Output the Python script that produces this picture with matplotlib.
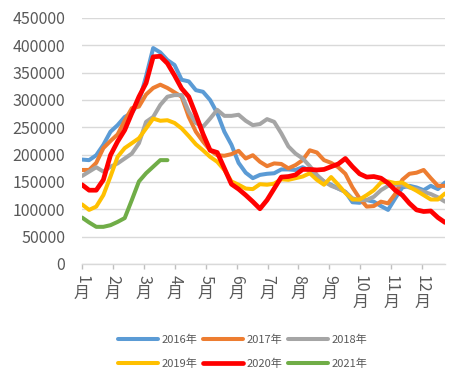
import numpy as np
import matplotlib
matplotlib.use("Agg")
import matplotlib.pyplot as plt

plt.rcParams['font.family'] = ['Noto Sans CJK SC', 'DejaVu Sans']

# =============================================================================
# * Data (weekly values)
# =============================================================================

months = ["1", "2", "3", "4", "5", "6", "7", "8", "9", "10", "11", "12"]
years = ["2016年", "2017年", "2018年", "2019年", "2020年", "2021年"]

s2016 = [191000, 190000, 199000, 218000, 242000, 254000, 269000, 276000, 297000, 343000,
         395000, 387000, 373000, 364000, 337000, 334000, 318000, 315000, 300000, 276000,
         242000, 218000, 185000, 167000, 157000, 163000, 165000, 166000, 173000, 173000,
         172000, 177000, 171000, 160000, 151000, 145000, 138000, 132000, 113000, 112000,
         117000, 114000, 106000, 99000, 120000, 140000, 143000, 140000, 135000, 143000,
         137000, 149000]
s2017 = [172000, 172000, 185000, 212000, 225000, 237000, 262000, 285000, 288000, 310000,
         322000, 328000, 322000, 314000, 306000, 269000, 242000, 224000, 208000, 199000,
         198000, 201000, 207000, 193000, 199000, 187000, 179000, 184000, 183000, 175000,
         181000, 190000, 208000, 204000, 190000, 185000, 177000, 165000, 140000, 120000,
         105000, 106000, 114000, 111000, 128000, 154000, 165000, 167000, 172000, 157000,
         143000, 143000]
s2018 = [161000, 169000, 177000, 169000, 178000, 184000, 193000, 202000, 221000, 260000,
         269000, 291000, 306000, 309000, 309000, 279000, 258000, 251000, 266000, 282000,
         271000, 271000, 273000, 262000, 254000, 256000, 265000, 260000, 239000, 215000,
         202000, 193000, 179000, 163000, 151000, 143000, 138000, 132000, 120000, 117000,
         117000, 123000, 135000, 143000, 145000, 145000, 140000, 137000, 132000, 128000,
         122000, 114000]
s2019 = [109000, 99000, 105000, 126000, 160000, 196000, 212000, 221000, 230000, 248000,
         266000, 262000, 263000, 258000, 248000, 234000, 219000, 208000, 196000, 187000,
         172000, 151000, 145000, 138000, 137000, 146000, 145000, 147000, 155000, 154000,
         157000, 160000, 166000, 154000, 145000, 159000, 145000, 130000, 118000, 118000,
         126000, 135000, 149000, 151000, 148000, 149000, 141000, 134000, 126000, 118000,
         118000, 129000]
s2020 = [145000, 135000, 135000, 154000, 199000, 224000, 245000, 276000, 306000, 331000,
         379000, 380000, 367000, 345000, 321000, 306000, 273000, 238000, 208000, 204000,
         175000, 146000, 137000, 126000, 114000, 101000, 117000, 138000, 159000, 160000,
         163000, 173000, 173000, 172000, 173000, 178000, 183000, 193000, 178000, 165000,
         159000, 160000, 157000, 148000, 135000, 126000, 111000, 99000, 96000, 97000,
         85000, 76000]
s2021 = [85000, 76000, 68000, 68000, 71000, 77000, 84000, 117000, 151000, 166000,
         178000, 190000, 190000]

series = [s2016, s2017, s2018, s2019, s2020, s2021]
colors = ["#5B9BD5", "#ED7D31", "#A5A5A5", "#FFC000", "#FF0000", "#70AD47"]
widths = [2.9, 2.9, 2.9, 2.9, 3.4, 2.9]

TEXT = "#595959"
GRID = "#D9D9D9"

# =============================================================================
# * Plot
# =============================================================================

fig = plt.figure(figsize=(4.73, 3.81), dpi=100)
ax = fig.add_axes([82 / 473, 1 - 264 / 381, 363 / 473, 246 / 381])

lines = []
for vals, col, lw, name in zip(series, colors, widths, years):
    ln, = ax.plot(np.arange(len(vals)), vals, color=col, lw=lw, label=name,
                  solid_joinstyle="round", solid_capstyle="round")
    lines.append(ln)

ax.set_xlim(0, 51)
ax.set_ylim(0, 450000)
ax.set_yticks(np.arange(0, 450001, 50000))
ax.set_yticklabels([str(v) for v in range(0, 450001, 50000)], fontsize=11.5, color=TEXT)
ax.yaxis.grid(True, color=GRID, lw=1)
ax.set_axisbelow(True)
ax.tick_params(axis="y", length=0, pad=12)

month_pos = [i * 4.345 for i in range(len(months))]
ax.set_xticks(month_pos)
ax.set_xticklabels([])
ax.tick_params(axis="x", length=3.5, width=1, color="#BFBFBF", direction="out")

for sp in ["top", "right", "left"]:
    ax.spines[sp].set_visible(False)
ax.spines["bottom"].set_color(GRID)
ax.spines["bottom"].set_linewidth(1)

# month labels: number turned sideways, 月 upright under it
px = 0.72
for pos, m in zip(month_pos, months):
    ax.annotate(m, xy=(pos, 0), xycoords=("data", "axes fraction"),
                xytext=(0, -11 * px), textcoords="offset points",
                rotation=-90, ha="center", va="top", fontsize=11.5, color=TEXT)
    ax.annotate("月", xy=(pos, 0), xycoords=("data", "axes fraction"),
                xytext=(0, -(12.5 + 8.6 * len(m)) * px), textcoords="offset points",
                ha="center", va="top", fontsize=11.5, color=TEXT)

# legend filled row by row (matplotlib fills by column)
order = [0, 3, 1, 4, 2, 5]
fig.legend([lines[i] for i in order], [years[i] for i in order], ncol=3,
           loc="center", bbox_to_anchor=(0.513, 0.077),
           frameon=False, fontsize=8, handlelength=3.6, handletextpad=0.3,
           columnspacing=0.55, labelspacing=1.25, labelcolor=TEXT)

fig.savefig("out.png", dpi=100)
